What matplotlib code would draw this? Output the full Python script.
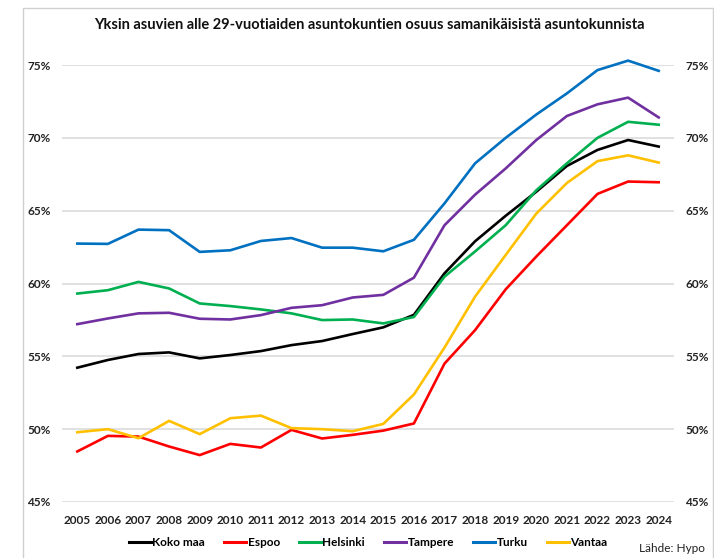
import matplotlib
matplotlib.use("Agg")
import matplotlib.pyplot as plt
from matplotlib.patches import Rectangle
from matplotlib.ticker import FuncFormatter

years = [str(y) for y in range(2005, 2025)]
koko_maa = [54.22, 54.75, 55.16, 55.27, 54.86, 55.09, 55.36, 55.77, 56.05, 56.53, 56.99, 57.85, 60.7, 62.9, 64.65, 66.3, 68.07, 69.17, 69.85, 69.4]
espoo = [48.47, 49.54, 49.49, 48.81, 48.22, 48.99, 48.74, 49.95, 49.36, 49.61, 49.9, 50.39, 54.5, 56.8, 59.6, 61.85, 64.0, 66.15, 67.0, 66.95]
helsinki = [59.31, 59.54, 60.11, 59.66, 58.63, 58.45, 58.22, 57.95, 57.49, 57.53, 57.26, 57.7, 60.47, 62.2, 64.0, 66.4, 68.25, 70.0, 71.1, 70.9]
tampere = [57.21, 57.6, 57.95, 57.99, 57.58, 57.53, 57.83, 58.33, 58.51, 59.04, 59.22, 60.4, 64.0, 66.1, 67.9, 69.85, 71.5, 72.3, 72.76, 71.4]
turku = [62.74, 62.72, 63.70, 63.66, 62.17, 62.28, 62.92, 63.12, 62.46, 62.46, 62.21, 63.0, 65.5, 68.25, 70.0, 71.6, 73.05, 74.65, 75.3, 74.6]
vantaa = [49.79, 50.0, 49.38, 50.57, 49.66, 50.75, 50.93, 50.07, 50.0, 49.86, 50.36, 52.38, 55.6, 59.1, 61.96, 64.8, 66.9, 68.4, 68.8, 68.3]

series = [
    ("Koko maa", koko_maa, "#000000"),
    ("Espoo", espoo, "#FF0000"),
    ("Helsinki", helsinki, "#00B050"),
    ("Tampere", tampere, "#7030A0"),
    ("Turku", turku, "#0070C0"),
    ("Vantaa", vantaa, "#FFC000"),
]
yticks = [45, 50, 55, 60, 65, 70, 75]

plt.rcParams['font.family'] = ['Lato', 'DejaVu Sans']

fig = plt.figure(figsize=(7.14, 5.58), dpi=100)
fig.patches.append(Rectangle((23/714, -0.1), (713-23)/714, 1.1 - 8/558, transform=fig.transFigure,
                             fill=False, edgecolor='#d0d0d0', linewidth=1.0))

ax = fig.add_axes([62/714, 1-502/558, (674-62)/714, (502-65)/558])
x = list(range(len(years)))
for name, vals, col in series:
    ax.plot(x, vals, color=col, linewidth=1.9, label=name, clip_on=False, solid_joinstyle='round')

ax.set_xlim(-0.5, len(years) - 0.5)
ax.set_ylim(45, 75)
ax.set_yticks(yticks)
fmt = FuncFormatter(lambda v, p: f"{int(v)}%")
ax.yaxis.set_major_formatter(fmt)
ax.set_xticks(x)
ax.set_xticklabels(years)
ax.grid(axis='y', color='#d9d9d9', linewidth=1.1)
ax.set_axisbelow(True)
for s in ax.spines.values():
    s.set_visible(False)
ax.tick_params(axis='both', length=0, labelsize=8.5, colors='#222222')
ax.tick_params(axis='y', pad=8)
ax.tick_params(axis='x', pad=9)
for lab in ax.get_xticklabels() + ax.get_yticklabels():
    lab.set_fontweight('bold')

ax2 = ax.twinx()
ax2.set_ylim(45, 75)
ax2.set_yticks(yticks)
ax2.yaxis.set_major_formatter(fmt)
for s in ax2.spines.values():
    s.set_visible(False)
ax2.tick_params(axis='y', length=0, labelsize=8.5, colors='#222222', pad=8)
for lab in ax2.get_yticklabels():
    lab.set_fontweight('bold')

fig.text(369/714, 1-25/558, "Yksin asuvien alle 29-vuotiaiden asuntokuntien osuus samanikäisistä asuntokunnista",
         ha='center', va='center', fontsize=10.5, fontweight='bold', color='#111111')

leg = fig.legend(loc='center', bbox_to_anchor=(368/714, 1-543/558), ncol=6, frameon=False,
                 fontsize=8.5, handlelength=1.9, handletextpad=0.1, columnspacing=1.6)
for t in leg.get_texts():
    t.set_fontweight('bold')
for h in leg.get_lines():
    h.set_linewidth(2.2)

fig.text(705/714, 1-549/558, "Lähde: Hypo", ha='right', va='center', fontsize=8.5, color='#222222')

fig.savefig("out.png", dpi=100)
